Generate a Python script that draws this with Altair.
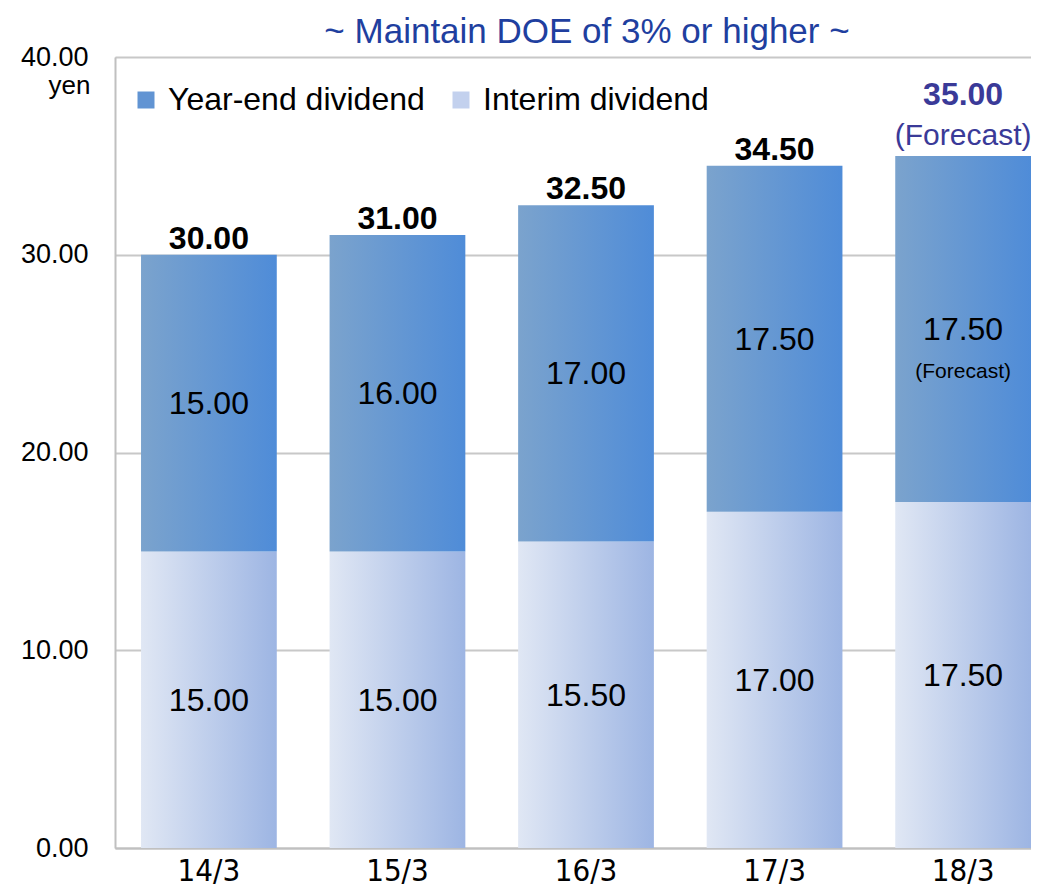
import altair as alt
import pandas as pd

periods = ["14/3", "15/3", "16/3", "17/3", "18/3"]
interim = [15.00, 15.00, 15.50, 17.00, 17.50]
year_end = [15.00, 16.00, 17.00, 17.50, 17.50]
totals = [30.00, 31.00, 32.50, 34.50, 35.00]
forecast = [False, False, False, False, True]
series_names = ["Year-end dividend", "Interim dividend"]
y_ticks = [0, 10, 20, 30, 40]
forecast_note = "(Forecast)"
title_text = "~ Maintain DOE of 3% or higher ~"

rows = []
for p, i, y, f in zip(periods, interim, year_end, forecast):
    rows.append({"period": p, "series": "Interim dividend", "order": 0, "value": i, "forecast": f})
    rows.append({"period": p, "series": "Year-end dividend", "order": 1, "value": y, "forecast": f})
seg = pd.DataFrame(rows)
tot = pd.DataFrame({"period": periods, "total": totals, "forecast": forecast})

FONT = "Liberation Sans"
NARROW = "Liberation Sans Narrow, DejaVu Sans Condensed, Liberation Sans"

year_grad = {"gradient": "linear", "x1": 0, "x2": 1, "y1": 0, "y2": 0,
             "stops": [{"offset": 0, "color": "#7ba3cd"}, {"offset": 1, "color": "#4f8cd8"}]}
int_grad = {"gradient": "linear", "x1": 0, "x2": 1, "y1": 0, "y2": 0,
            "stops": [{"offset": 0, "color": "#e0e7f4"}, {"offset": 1, "color": "#9db5e3"}]}

xenc = alt.X("period:N", sort=periods,
             scale=alt.Scale(paddingInner=0.28, paddingOuter=0.069, align=1),
             axis=alt.Axis(title=None, labelAngle=0, labelFont=NARROW, labelFontSize=31,
                           labelColor="black", labelBaseline="alphabetic", labelPadding=32,
                           ticks=False, grid=False, domainColor="#c0c0c0", domainWidth=2))
yscale = alt.Scale(domain=[0, 40], nice=False, zero=True)
yaxis = alt.Axis(values=y_ticks, format=".2f", title="yen", titleAngle=0, titleX=-25, titleY=28,
                 titleAlign="right", titleBaseline="middle", titleFont=FONT, titleFontSize=26,
                 titleFontWeight="normal", titleColor="black",
                 labelFont=FONT, labelFontSize=27, labelColor="black", labelPadding=27,
                 ticks=False, grid=True, gridColor="#c8c8c8", gridWidth=2,
                 domainColor="#c0c0c0", domainWidth=2)

def Y(field):
    return alt.Y(field, scale=yscale, axis=yaxis)

base = alt.Chart(seg).transform_stack(
    stack="value", groupby=["period"], as_=["y0", "y1"],
    sort=[alt.SortField("order", order="ascending")]
).transform_calculate(mid="(datum.y0 + datum.y1) / 2")

legend_layer = base.mark_bar(opacity=0).encode(
    x=xenc, y=Y("y0:Q"), y2="y1:Q",
    color=alt.Color("series:N",
                    scale=alt.Scale(domain=series_names, range=["#6194d3", "#c3d1ee"]),
                    legend=alt.Legend(title=None, orient="none", legendX=15, legendY=27,
                                      direction="horizontal", symbolType="square",
                                      symbolSize=289, symbolOpacity=1, symbolStrokeWidth=0,
                                      labelFont=FONT, labelFontSize=32, labelColor="black",
                                      labelOffset=6, columnPadding=20, padding=0,
                                      labelLimit=400)))

int_bars = base.transform_filter("datum.series == 'Interim dividend'").mark_bar(
    color=int_grad).encode(x=xenc, y=Y("y0:Q"), y2="y1:Q")
year_bars = base.transform_filter("datum.series == 'Year-end dividend'").mark_bar(
    color=year_grad).encode(x=xenc, y=Y("y0:Q"), y2="y1:Q")

values = base.mark_text(font=FONT, fontSize=32, color="black", baseline="middle", dy=1).encode(
    x=xenc, y=Y("mid:Q"), text=alt.Text("value:Q", format=".2f"))

note = base.transform_filter("datum.forecast && datum.series == 'Year-end dividend'").mark_text(
    font=FONT, fontSize=21, color="black", baseline="middle", dy=43).encode(
    x=xenc, y=Y("mid:Q"), text=alt.value(forecast_note))

tot_base = alt.Chart(tot)
totals_layer = tot_base.transform_filter("!datum.forecast").mark_text(
    font=FONT, fontSize=32, fontWeight="bold", color="black", baseline="alphabetic", dy=-6).encode(
    x=xenc, y=Y("total:Q"), text=alt.Text("total:Q", format=".2f"))
fc_total = tot_base.transform_filter("datum.forecast").mark_text(
    font=FONT, fontSize=32, fontWeight="bold", color="#3a3a98", baseline="alphabetic", dy=-51).encode(
    x=xenc, y=Y("total:Q"), text=alt.Text("total:Q", format=".2f"))
fc_note = tot_base.transform_filter("datum.forecast").mark_text(
    font=FONT, fontSize=30, color="#3a3a98", baseline="alphabetic", dy=-11).encode(
    x=xenc, y=Y("total:Q"), text=alt.value(forecast_note))

chart = alt.layer(
    legend_layer, int_bars, year_bars, values, note, totals_layer, fc_total, fc_note
).properties(
    width=916, height=791,
    padding={"left": 107, "top": 49, "right": 0, "bottom": 40},
    autosize=alt.AutoSizeParams(type="none"),
    title=alt.TitleParams(text=title_text, font=FONT, fontSize=35, fontWeight="normal",
                          color="#1f3f9f", anchor="middle", dx=14, dy=16, offset=9, frame="group")
).configure_view(stroke=None).configure(background="white")

chart.save("out.html", embed_options={"renderer": "svg", "actions": False})
